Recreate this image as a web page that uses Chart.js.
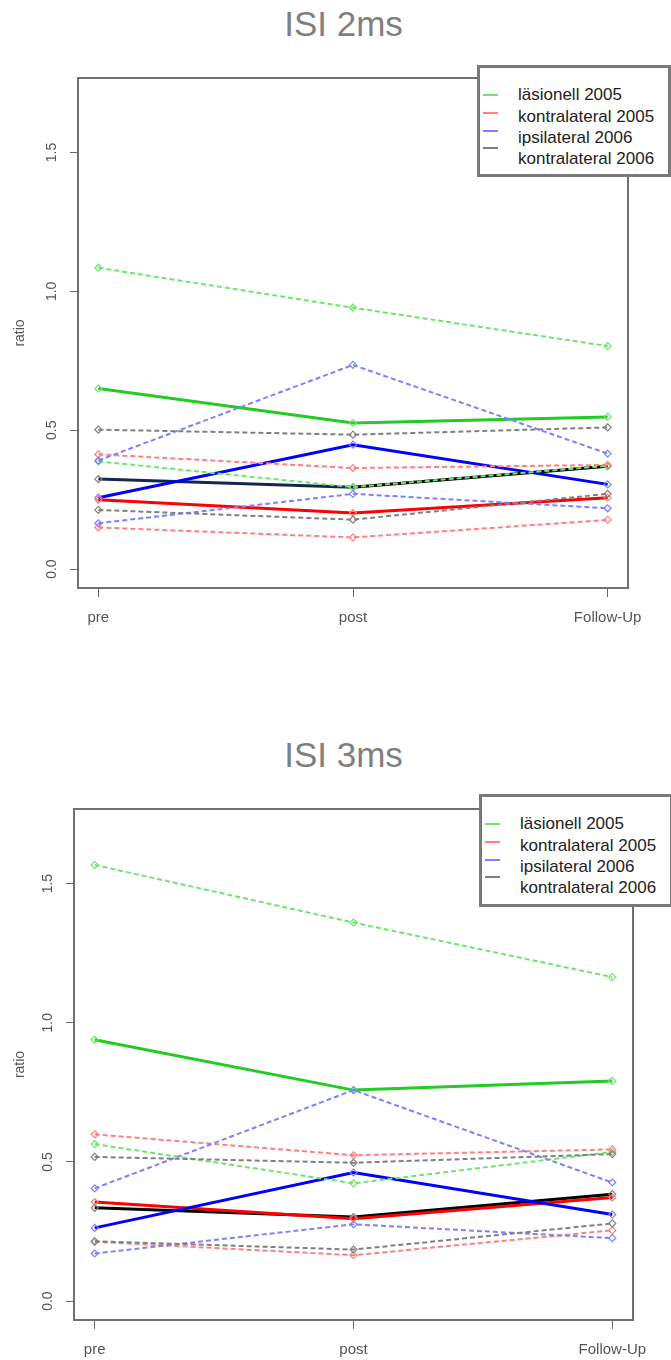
<!DOCTYPE html>
<html>
<head>
<meta charset="utf-8">
<title>ISI ratio</title>
<script src="https://cdn.jsdelivr.net/npm/chart.js@4.4.1/dist/chart.umd.min.js"></script>
<style>
  body { margin: 0; background: #fff; font-family: "Liberation Sans", Arial, sans-serif; }
  #page { position: relative; width: 671px; height: 1360px; overflow: hidden; }
  .panel { position: absolute; left: 0; width: 671px; height: 629px; }
  .panel canvas { position: absolute; left: 0; top: 0; }
  .title { position: absolute; left: 0; top: 4px; width: 687px; text-align: center;
           font-size: 35px; line-height: 40px; color: #7f7f7f; }
  .legend { position: absolute; box-sizing: border-box; width: 194px; height: 112px;
            border: 3px solid #7a7a7a; background: #fff; }
  .legend .swatch { position: absolute; left: 3px; width: 15px; height: 2px; }
  .legend .label { position: absolute; left: 38px; font-size: 17px; line-height: 20px;
                   color: #222; white-space: nowrap; }
</style>
</head>
<body>
<div id="page">
  <div class="panel" id="panel2ms" style="top:0">
    <div class="title">ISI 2ms</div>
    <canvas id="chart2ms"></canvas>
    <div class="legend" style="left:477px; top:65px"></div>
  </div>
  <div class="panel" id="panel3ms" style="top:731px">
    <div class="title">ISI 3ms</div>
    <canvas id="chart3ms"></canvas>
    <div class="legend" style="left:479px; top:63px; height:113px"></div>
  </div>
</div>
<script>
// Time points and axis ticks
const categories = ['pre', 'post', 'Follow-Up'];
const yTicks = [0, 0.5, 1.0, 1.5];
const yLimits = [0, 1.7];

// Groups shown in the legend
const groupNames = ['läsionell 2005', 'kontralateral 2005', 'ipsilateral 2006', 'kontralateral 2006'];
const lightColors = ['#6fe46f', '#ff8080', '#8080ff', '#808080'];
const solidColors = ['#22cc22', '#ff0000', '#0000ff', '#000000'];

// ISI 2ms – two subjects (dashed) plus group line (solid) per group
const isi2Lasionell1 = [1.085, 0.941, 0.803];
const isi2Lasionell2 = [0.388, 0.295, 0.372];
const isi2LasionellMean = [0.650, 0.526, 0.548];
const isi2Kontra05a = [0.413, 0.364, 0.375];
const isi2Kontra05b = [0.150, 0.114, 0.177];
const isi2Kontra05Mean = [0.250, 0.202, 0.257];
const isi2Ipsi1 = [0.391, 0.735, 0.416];
const isi2Ipsi2 = [0.165, 0.271, 0.219];
const isi2IpsiMean = [0.257, 0.448, 0.305];
const isi2Kontra06a = [0.502, 0.484, 0.510];
const isi2Kontra06b = [0.213, 0.178, 0.271];
const isi2Kontra06Mean = [0.324, 0.295, 0.370];

// ISI 3ms
const isi3Lasionell1 = [1.567, 1.360, 1.164];
const isi3Lasionell2 = [0.564, 0.423, 0.536];
const isi3LasionellMean = [0.939, 0.758, 0.791];
const isi3Kontra05a = [0.599, 0.524, 0.545];
const isi3Kontra05b = [0.213, 0.165, 0.254];
const isi3Kontra05Mean = [0.356, 0.296, 0.372];
const isi3Ipsi1 = [0.405, 0.758, 0.426];
const isi3Ipsi2 = [0.171, 0.276, 0.226];
const isi3IpsiMean = [0.263, 0.462, 0.311];
const isi3Kontra06a = [0.518, 0.497, 0.528];
const isi3Kontra06b = [0.215, 0.185, 0.279];
const isi3Kontra06Mean = [0.335, 0.302, 0.384];

Chart.defaults.font.family = '"Liberation Sans", Arial, sans-serif';

/**
 * Frame around the plot region.
 */
const plotBox = {
  id: 'plotBox',
  afterDraw(chart) {
    const { ctx, chartArea: a } = chart;
    ctx.save();
    ctx.strokeStyle = '#707070';
    ctx.lineWidth = 2;
    ctx.strokeRect(a.left, a.top, a.right - a.left, a.bottom - a.top);
    ctx.restore();
  }
};

/**
 * Fill a legend box with swatches and labels.
 */
function fillLegend(el) {
  const swatchTops = [26, 43.7, 61.7, 79.3];
  const labelTops = [17.3, 39, 59.6, 81.3];
  groupNames.forEach((name, i) => {
    const sw = document.createElement('div');
    sw.className = 'swatch';
    sw.style.top = swatchTops[i] + 'px';
    sw.style.background = lightColors[i];
    el.appendChild(sw);
    const lb = document.createElement('div');
    lb.className = 'label';
    lb.style.top = labelTops[i] + 'px';
    lb.textContent = name;
    el.appendChild(lb);
  });
}

/**
 * Build one line chart.
 * series: [{ group, values, solid, firstSegColor }]
 * box: plot region in canvas pixels
 */
function renderChart(canvasId, series, box) {
  const canvas = document.getElementById(canvasId);
  canvas.width = 671;
  canvas.height = 629;

  const yPad = (yLimits[1] - yLimits[0]) * 0.04;
  const xPad = (categories.length - 1) * 0.04;

  const datasets = series.map(s => {
    const ds = {
      data: s.values.map((v, i) => ({ x: i + 1, y: v })),
      borderColor: s.solid ? solidColors[s.group] : lightColors[s.group],
      borderWidth: s.solid ? 3 : 2,
      borderDash: s.solid ? [] : [5, 3],
      pointStyle: 'rectRot',
      pointRadius: 3.5,
      pointBorderWidth: 1.2,
      pointBorderColor: lightColors[s.group],
      pointBackgroundColor: 'rgba(0,0,0,0)',
      fill: false,
      tension: 0
    };
    if (s.firstSegColor) {
      ds.segment = { borderColor: c => (c.p0DataIndex === 0 ? s.firstSegColor : undefined) };
    }
    return ds;
  }).reverse(); // first dataset is drawn on top

  return new Chart(canvas, {
    type: 'line',
    data: { datasets },
    options: {
      responsive: false,
      animation: false,
      layout: { padding: { top: box.top, right: 671 - box.right, left: 0, bottom: 0 } },
      plugins: { legend: { display: false }, tooltip: { enabled: false } },
      scales: {
        x: {
          type: 'linear',
          min: 1 - xPad,
          max: categories.length + xPad,
          afterBuildTicks: s => { s.ticks = categories.map((c, i) => ({ value: i + 1 })); },
          afterFit: s => { s.height = 629 - box.bottom; },
          border: { display: false },
          grid: { drawOnChartArea: false, drawTicks: true, tickLength: 9, color: '#666' },
          ticks: {
            autoSkip: false, maxRotation: 0, padding: 12, color: '#555',
            font: { size: 15 },
            callback: v => categories[Math.round(v) - 1]
          }
        },
        y: {
          min: yLimits[0] - yPad,
          max: yLimits[1] + yPad,
          afterBuildTicks: s => { s.ticks = yTicks.map(v => ({ value: v })); },
          afterFit: s => { s.width = box.left; },
          border: { display: false },
          grid: { drawOnChartArea: false, drawTicks: true, tickLength: 8, color: '#666' },
          ticks: {
            minRotation: 90, maxRotation: 90, crossAlign: 'center', padding: 8,
            color: '#555', font: { size: 14 },
            callback: v => v.toFixed(1)
          },
          title: {
            display: true, text: 'ratio', color: '#555',
            font: { size: 14 }, padding: { top: 12, bottom: 0 }
          }
        }
      }
    },
    plugins: [plotBox]
  });
}

document.querySelectorAll('.legend').forEach(fillLegend);

renderChart('chart2ms', [
  { group: 3, values: isi2Kontra06Mean, solid: true, firstSegColor: '#15264f' },
  { group: 2, values: isi2IpsiMean, solid: true },
  { group: 1, values: isi2Kontra05Mean, solid: true },
  { group: 0, values: isi2LasionellMean, solid: true },
  { group: 0, values: isi2Lasionell1 },
  { group: 0, values: isi2Lasionell2 },
  { group: 1, values: isi2Kontra05a },
  { group: 1, values: isi2Kontra05b },
  { group: 2, values: isi2Ipsi1 },
  { group: 2, values: isi2Ipsi2 },
  { group: 3, values: isi2Kontra06a },
  { group: 3, values: isi2Kontra06b }
], { left: 78, right: 628, top: 78, bottom: 588 });

renderChart('chart3ms', [
  { group: 3, values: isi3Kontra06Mean, solid: true },
  { group: 1, values: isi3Kontra05Mean, solid: true },
  { group: 2, values: isi3IpsiMean, solid: true },
  { group: 0, values: isi3LasionellMean, solid: true },
  { group: 0, values: isi3Lasionell1 },
  { group: 0, values: isi3Lasionell2 },
  { group: 1, values: isi3Kontra05a },
  { group: 1, values: isi3Kontra05b },
  { group: 2, values: isi3Ipsi1 },
  { group: 2, values: isi3Ipsi2 },
  { group: 3, values: isi3Kontra06a },
  { group: 3, values: isi3Kontra06b }
], { left: 74, right: 633, top: 78, bottom: 589 });
</script>
</body>
</html>
